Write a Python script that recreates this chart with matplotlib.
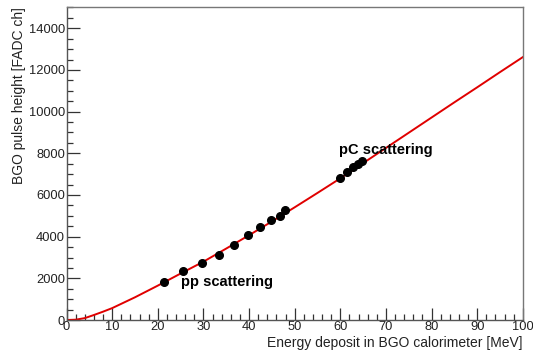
import matplotlib
matplotlib.use("Agg")
import matplotlib.pyplot as plt
import matplotlib.ticker as ticker

plt.rcParams['font.family'] = ['Liberation Sans', 'DejaVu Sans']

# measured points: energy deposit [MeV] vs BGO pulse height [FADC ch]
pp_energy = [21.4, 25.5, 29.7, 33.4, 36.7, 39.8, 42.4, 44.8, 46.8, 47.9]
pp_height = [1830, 2350, 2740, 3120, 3600, 4080, 4460, 4800, 4990, 5280]
pc_energy = [59.9, 61.4, 62.8, 63.9, 64.8]
pc_height = [6820, 7100, 7340, 7490, 7630]

# calibration curve
fit_energy = [0, 2, 4, 6, 8, 10, 15, 20, 25, 30, 35, 40, 45, 50, 55, 60,
              65, 70, 75, 80, 85, 90, 95, 100]
fit_height = [0, 15, 90, 240, 400, 570, 1090, 1650, 2230, 2800, 3430, 4070,
              4730, 5410, 6100, 6800, 7530, 8260, 8990, 9720, 10450, 11170,
              11900, 12620]

fig = plt.figure(figsize=(5.33, 3.5), dpi=100)
ax = fig.add_axes([0.1248, 0.0857, 0.8562, 0.8929])

ax.plot(fit_energy, fit_height, color='#e00000', lw=1.4, zorder=2)
ax.plot(pp_energy, pp_height, 'o', color='black', ms=5.5, zorder=3)
ax.plot(pc_energy, pc_height, 'o', color='black', ms=5.5, zorder=3)

ax.text(25.0, 1830, 'pp scattering', fontsize=10.5, fontweight='bold',
        va='center', ha='left')
ax.text(59.8, 8150, 'pC scattering', fontsize=10.5, fontweight='bold',
        va='center', ha='left')

ax.set_xlim(0, 100)
ax.set_ylim(0, 15000)
ax.xaxis.set_major_locator(ticker.MultipleLocator(10))
ax.xaxis.set_minor_locator(ticker.MultipleLocator(2))
ax.yaxis.set_major_locator(ticker.MultipleLocator(2000))
ax.yaxis.set_minor_locator(ticker.MultipleLocator(500))

ax.tick_params(which='both', direction='in', colors='#333333',
               labelcolor='#222222', labelsize=9.3, top=False, right=False)
ax.tick_params(which='major', length=9, width=0.9)
ax.tick_params(which='minor', length=4.5, width=0.9)
ax.tick_params(axis='x', pad=1)
ax.tick_params(axis='y', pad=1)

for side in ['left', 'bottom']:
    ax.spines[side].set_color('#555555')
    ax.spines[side].set_linewidth(1.0)
for side in ['top', 'right']:
    ax.spines[side].set_color('#777777')
    ax.spines[side].set_linewidth(1.0)

ax.set_xlabel('Energy deposit in BGO calorimeter [MeV]', fontsize=10,
              color='#222222', loc='right', labelpad=2)
ax.set_ylabel('BGO pulse height [FADC ch]', fontsize=10, color='#222222',
              loc='top', labelpad=2)

fig.savefig('out.png', dpi=100)
